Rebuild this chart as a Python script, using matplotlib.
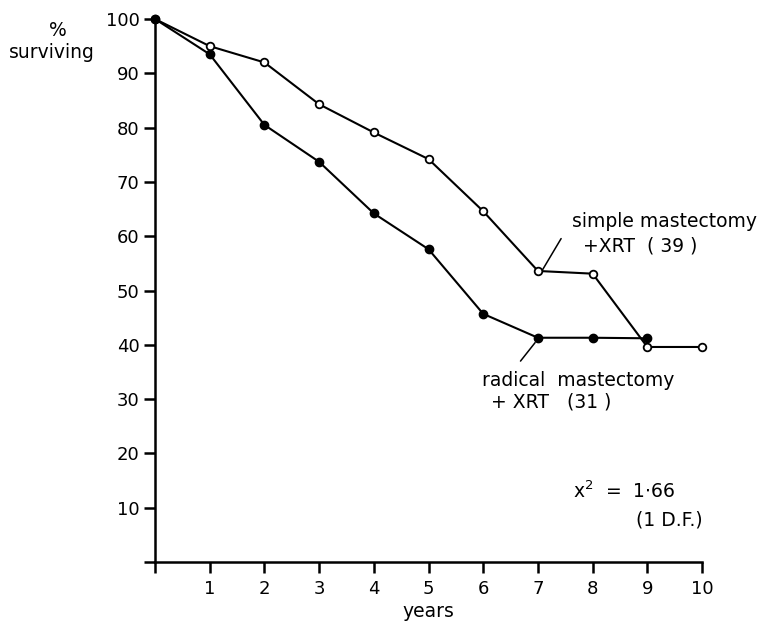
import matplotlib
matplotlib.use("Agg")
import matplotlib.pyplot as plt

# survival (%) by year after treatment
years_simple = [0, 1, 2, 3, 4, 5, 6, 7, 8, 9, 10]
simple_xrt = [100, 95.0, 92.0, 84.3, 79.1, 74.2, 64.6, 53.6, 53.1, 39.6, 39.6]

years_radical = [0, 1, 2, 3, 4, 5, 6, 7, 8, 9]
radical_xrt = [100, 93.5, 80.5, 73.7, 64.2, 57.6, 45.7, 41.3, 41.3, 41.2]

x_ticks = list(range(0, 11))
y_ticks = list(range(0, 101, 10))

plt.rcParams['font.family'] = ['DejaVu Sans']
fig = plt.figure(figsize=(7.62, 6.23), dpi=100)
ax = fig.add_axes([0.2034, 0.0979, 0.7179, 0.8716])

lw = 1.5
ax.plot(years_simple, simple_xrt, color='black', lw=lw, marker='o', ms=5.5,
        mfc='white', mec='black', mew=1.3, clip_on=False, zorder=3)
ax.plot(years_radical, radical_xrt, color='black', lw=lw, marker='o', ms=6,
        mfc='black', mec='black', clip_on=False, zorder=4)

ax.set_xlim(0, 10)
ax.set_ylim(0, 100)
for side in ('top', 'right'):
    ax.spines[side].set_visible(False)
for side in ('left', 'bottom'):
    ax.spines[side].set_linewidth(1.8)

ax.set_xticks(x_ticks)
ax.set_xticklabels([''] + [str(t) for t in x_ticks[1:]])
ax.set_yticks(y_ticks)
ax.set_yticklabels([''] + [str(t) for t in y_ticks[1:]])
ax.tick_params(axis='both', direction='out', length=8, width=1.8,
               labelsize=13, pad=3)
ax.tick_params(axis='x', pad=5)

ax.set_xlabel('years', fontsize=13.5, labelpad=3)

fs = 13.5
fig.text(58 / 762, 1 - 30 / 623, '%', ha='center', va='center', fontsize=fs)
fig.text(52 / 762, 1 - 53 / 623, 'surviving', ha='center', va='center', fontsize=fs)

# curve labels with leader lines
ax.annotate('', xy=(7.06, 53.4), xytext=(7.45, 60.0),
            arrowprops=dict(arrowstyle='-', lw=1.1, color='black'))
ax.text(7.63, 62.7, 'simple mastectomy', fontsize=fs, va='center', ha='left')
ax.text(7.83, 58.2, '+XRT  ( 39 )', fontsize=fs, va='center', ha='left')

ax.annotate('', xy=(6.98, 40.8), xytext=(6.65, 36.6),
            arrowprops=dict(arrowstyle='-', lw=1.1, color='black'))
ax.text(5.97, 33.5, 'radical  mastectomy', fontsize=fs, va='center', ha='left')
ax.text(6.15, 29.5, '+ XRT   (31 )', fontsize=fs, va='center', ha='left')

ax.text(7.65, 13.0, r'x$^2$  =  1$\cdot$66', fontsize=fs, va='center', ha='left')
ax.text(8.8, 7.8, '(1 D.F.)', fontsize=fs, va='center', ha='left')

fig.savefig('out.png', dpi=100)
